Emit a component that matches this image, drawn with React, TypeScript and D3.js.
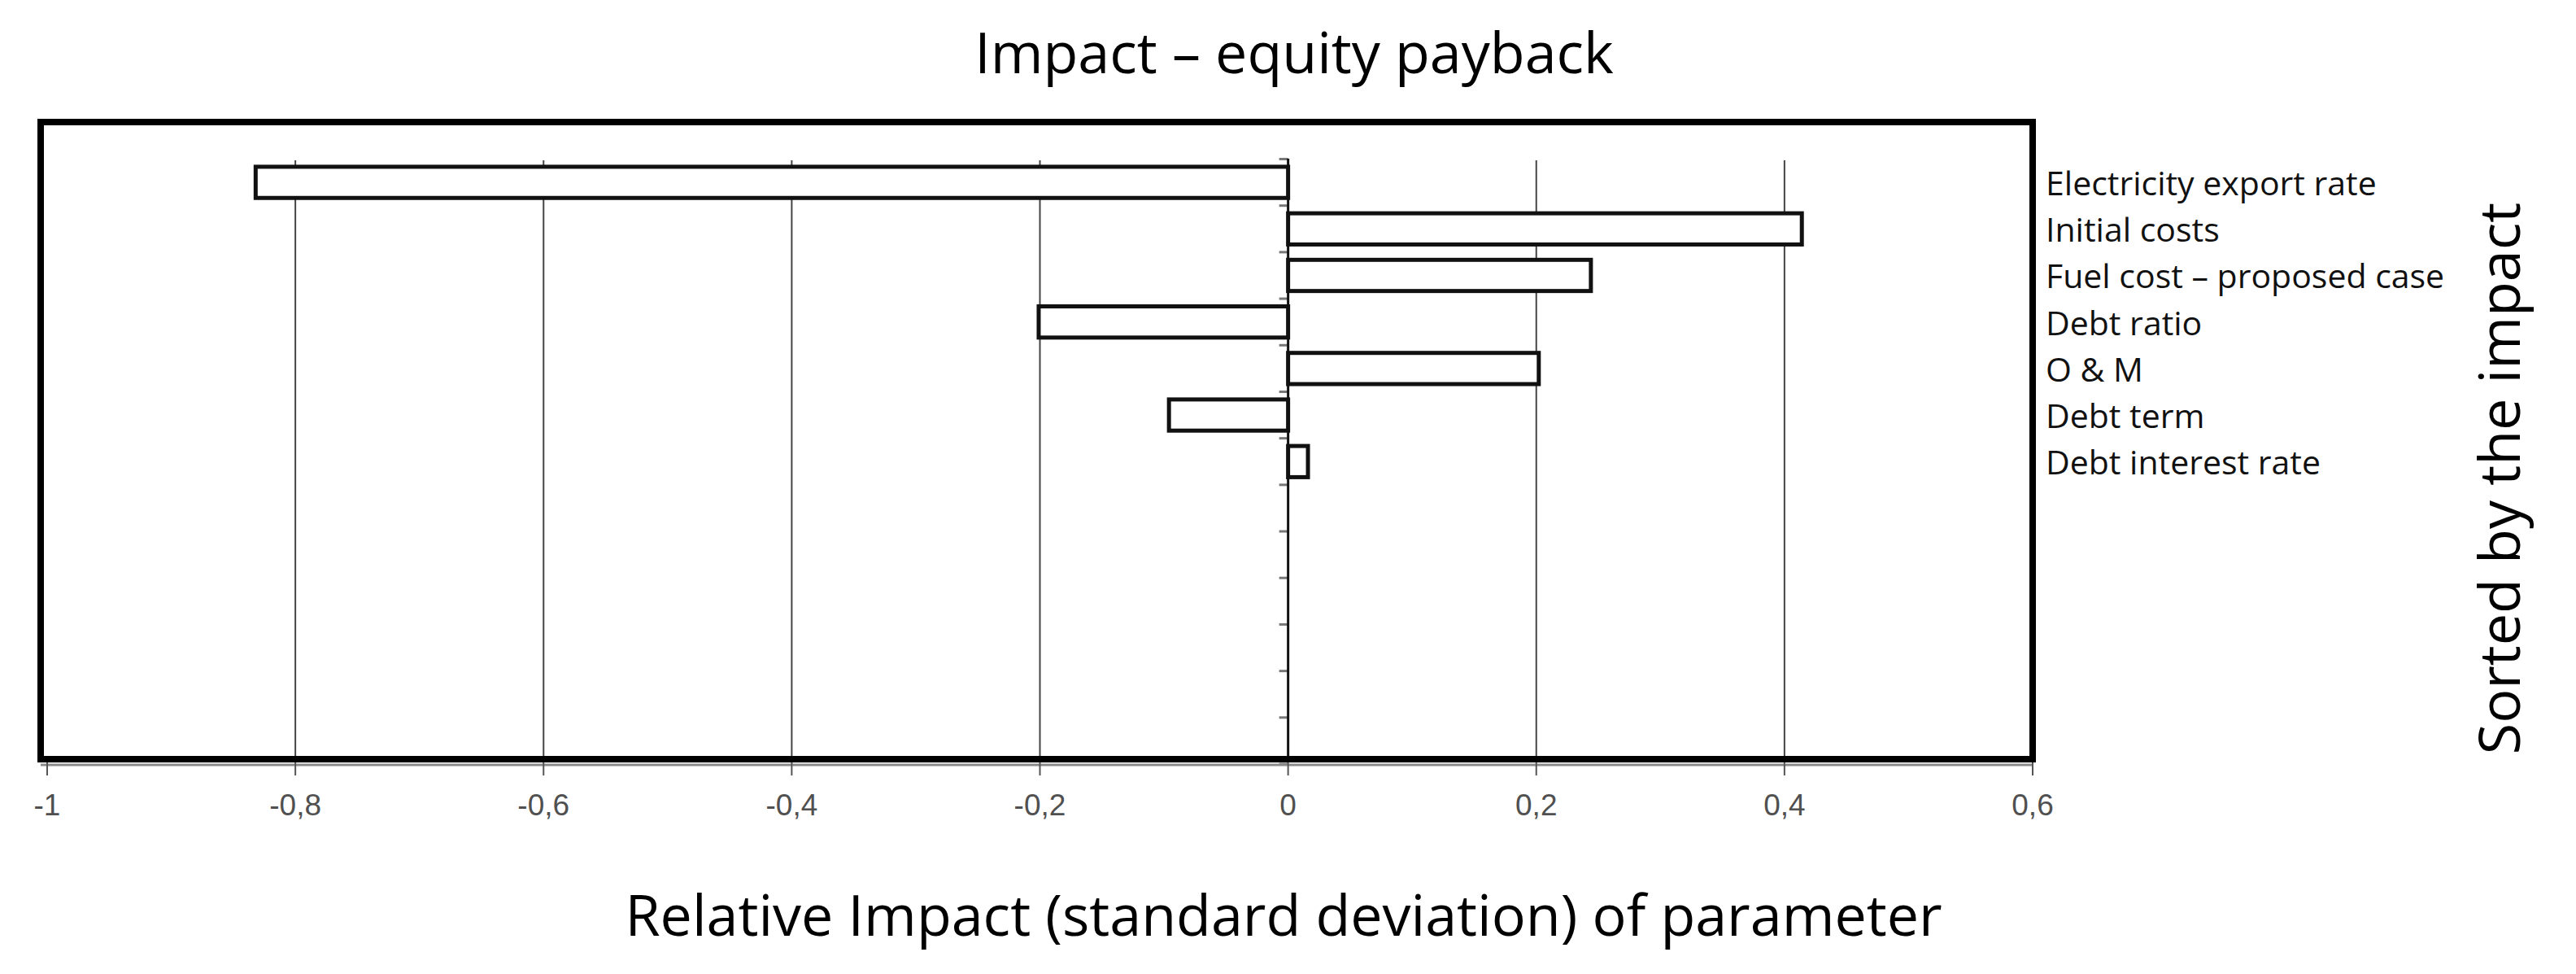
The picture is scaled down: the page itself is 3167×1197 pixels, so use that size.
import React, { useEffect } from "react";
import * as d3 from "d3";

// ---- data ----
const categories = [
  "Electricity export rate",
  "Initial costs",
  "Fuel cost – proposed case",
  "Debt ratio",
  "O & M",
  "Debt term",
  "Debt interest rate",
];
const impacts = [-0.832, 0.414, 0.244, -0.201, 0.202, -0.096, 0.016];
const slotCount = 13; // category slots on the axis (7 used, 6 empty)
const xTicks = [-1, -0.8, -0.6, -0.4, -0.2, 0, 0.2, 0.4, 0.6];
const gridValues = [-0.8, -0.6, -0.4, -0.2, 0.2, 0.4];
const title = "Impact – equity payback";
const xTitle = "Relative Impact (standard deviation) of parameter";
const yTitle = "Sorted by the impact";

const W = 3167;
const H = 1197;

const fmt = (v: number) => String(Math.round(v * 10) / 10).replace(".", ",");

export default function App() {
  useEffect(() => {
    document.body.style.margin = "0";
    document.body.style.overflow = "hidden";
  }, []);

  const x = d3.scaleLinear().domain([-1, 0.6]).range([58, 2499]);
  const slots = d3.range(slotCount).map(String);
  const y = d3
    .scaleBand<string>()
    .domain(slots)
    .range([195.5, 939])
    .paddingInner(0.33)
    .paddingOuter(0.165);
  const step = y.step();
  const bw = y.bandwidth();
  const x0 = x(0);

  const box = { left: 50, top: 150, right: 2499, bottom: 933 };

  return (
    <svg width={W} height={H} style={{ display: "block", background: "#fff" }}>
      <rect x={0} y={0} width={W} height={H} fill="#fff" />
      {/* title */}
      <text
        x={1591}
        y={90}
        textAnchor="middle"
        fontFamily="'Open Sans', sans-serif"
        fontSize={70}
        fill="#000"
      >
        {title}
      </text>

      {/* grid lines */}
      {gridValues.map((g) => (
        <line
          key={"g" + g}
          x1={x(g)}
          x2={x(g)}
          y1={197}
          y2={box.bottom}
          stroke="#444"
          strokeWidth={2}
        />
      ))}

      {/* bars */}
      {impacts.map((v, i) => {
        const xv = x(v);
        return (
          <rect
            key={"b" + i}
            x={Math.min(xv, x0)}
            y={y(String(i))!}
            width={Math.abs(xv - x0)}
            height={bw}
            fill="#fff"
            stroke="#111"
            strokeWidth={5}
          />
        );
      })}

      {/* zero axis with slot ticks */}
      {d3.range(slotCount + 1).map((k) => {
        const yy = 195.5 + k * step;
        return (
          <line
            key={"t" + k}
            x1={x0 - 11}
            x2={x0}
            y1={yy}
            y2={yy}
            stroke="#777"
            strokeWidth={3}
          />
        );
      })}
      <line x1={x0} x2={x0} y1={195} y2={box.bottom} stroke="#111" strokeWidth={3} />

      {/* x axis line and ticks below the frame */}
      <line x1={box.left} x2={box.right} y1={940} y2={940} stroke="#8a8a8a" strokeWidth={3} />
      {xTicks.map((t) => (
        <g key={"x" + t}>
          <line x1={x(t)} x2={x(t)} y1={936} y2={953} stroke="#555" strokeWidth={2} />
          <text
            x={x(t)}
            y={1002}
            textAnchor="middle"
            fontFamily="'Liberation Sans', Arial, sans-serif"
            fontSize={37}
            fill="#505050"
          >
            {fmt(t)}
          </text>
        </g>
      ))}

      {/* frame */}
      <rect
        x={box.left}
        y={box.top}
        width={box.right - box.left}
        height={box.bottom - box.top}
        fill="none"
        stroke="#000"
        strokeWidth={8}
      />

      {/* category labels */}
      {categories.map((c, i) => (
        <text
          key={"c" + i}
          x={2515}
          y={y(String(i))! + bw / 2 + 16}
          fontFamily="'Open Sans', sans-serif"
          fontSize={41}
          fill="#111"
        >
          {c}
        </text>
      ))}

      {/* x title */}
      <text
        x={1578}
        y={1150}
        textAnchor="middle"
        fontFamily="'Open Sans', sans-serif"
        fontSize={70}
        fill="#000"
      >
        {xTitle}
      </text>

      {/* right title */}
      <text
        transform={`translate(3098,588) rotate(-90)`}
        textAnchor="middle"
        fontFamily="'Open Sans', sans-serif"
        fontSize={70}
        fill="#000"
      >
        {yTitle}
      </text>
    </svg>
  );
}
